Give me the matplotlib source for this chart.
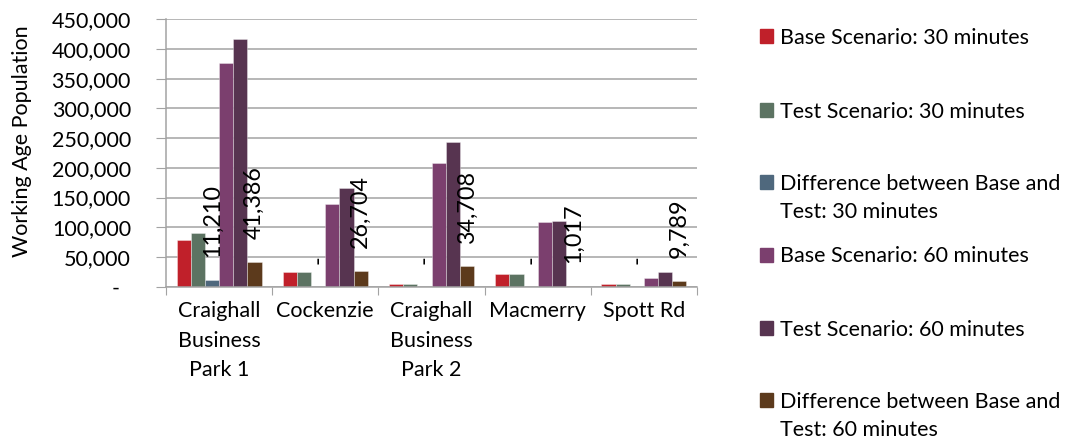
import numpy as np
import matplotlib.pyplot as plt
from matplotlib.patches import Rectangle
from matplotlib.transforms import ScaledTranslation

plt.rcParams['font.family'] = ['Lato', 'DejaVu Sans']

# working age population reachable from each site
sites = ['Craighall\nBusiness\nPark 1', 'Cockenzie', 'Craighall\nBusiness\nPark 2',
         'Macmerry', 'Spott Rd']

base_30 = [78800, 24800, 4200, 21400, 4500]
test_30 = [90010, 24800, 4200, 21400, 4500]
diff_30 = [11210, 0, 0, 0, 0]
base_60 = [376100, 140000, 208400, 109000, 14400]
test_60 = [417486, 166704, 243108, 110017, 24189]
diff_60 = [41386, 26704, 34708, 1017, 9789]

series_names = ['Base Scenario: 30 minutes', 'Test Scenario: 30 minutes',
                'Difference between Base and\nTest: 30 minutes',
                'Base Scenario: 60 minutes', 'Test Scenario: 60 minutes',
                'Difference between Base and\nTest: 60 minutes']
colors = ['#c0202a', '#5c7362', '#4f687d', '#7b3f6e', '#573450', '#5c3a1c']
series = [base_30, test_30, diff_30, base_60, test_60, diff_60]

grid_col = '#a3a3a3'
FS = 15.5

fig = plt.figure(figsize=(10.75, 4.44), dpi=100)
ax = fig.add_axes([0.1544, 0.3543, 0.494, 0.6022])

x = np.arange(len(sites))
w = 0.8 / len(series)
for i, (vals, col) in enumerate(zip(series, colors)):
    ax.bar(x - 0.4 + w * (i + 0.5), vals, w, color=col,
           edgecolor=(1, 1, 1, 0.35), linewidth=0.7, zorder=2)

# value labels on the difference series
for i in (2, 5):
    for xi, v in zip(x, series[i]):
        ax.annotate(f'{v:,}' if v else '-', (xi - 0.4 + w * (i + 0.5), v),
                    xytext=(0, 16.5), textcoords='offset points',
                    rotation=90, ha='center', va='bottom', fontsize=16.8,
                    zorder=3)

ax.set_xlim(-0.5, len(sites) - 0.5)
ax.set_ylim(0, 450000)
yt = np.arange(0, 450001, 50000)
ax.set_yticks(yt)
ax.set_yticklabels([f'{v:,}' if v else '-' for v in yt])
ax.tick_params(axis='y', length=7.2, color=grid_col, pad=18, labelsize=FS)
# the zero label sits a little further left, like an accounting format
zero_lbl = ax.yaxis.get_major_ticks()[0].label1
zero_lbl.set_transform(zero_lbl.get_transform()
                       + ScaledTranslation(-0.11, 0, fig.dpi_scale_trans))

ax.set_xticks(np.arange(-0.5, len(sites)))
ax.set_xticklabels([])
ax.set_xticks(x, minor=True)
ax.set_xticklabels(sites, minor=True, fontsize=FS, linespacing=1.6)
ax.tick_params(axis='x', which='major', length=5.8, color=grid_col)
ax.tick_params(axis='x', which='minor', length=0, pad=10.5)

ax.yaxis.grid(True, color=grid_col, linewidth=1.1)
ax.set_axisbelow(True)
for s in ('top', 'right'):
    ax.spines[s].set_visible(False)
for s in ('left', 'bottom'):
    ax.spines[s].set_color(grid_col)
    ax.spines[s].set_linewidth(1.1)

ax.set_ylabel('Working Age Population', fontsize=FS, va='center')
ax.yaxis.set_label_coords(-0.271, 0.543)

# legend on the right, one entry per series
W, H = 1075, 444
first_line = [36, 110, 182, 255, 328, 400]
for name, col, yc in zip(series_names, colors, first_line):
    fig.add_artist(Rectangle((760 / W, 1 - (yc + 6.7) / H), 13.3 / W, 13.3 / H,
                             transform=fig.transFigure, color=col))
    for k, line in enumerate(name.split('\n')):
        fig.text(780 / W, 1 - (yc + 7.5 + 28.5 * k) / H, line,
                 fontsize=FS, va='baseline', ha='left')

fig.savefig('out.png', dpi=100)
